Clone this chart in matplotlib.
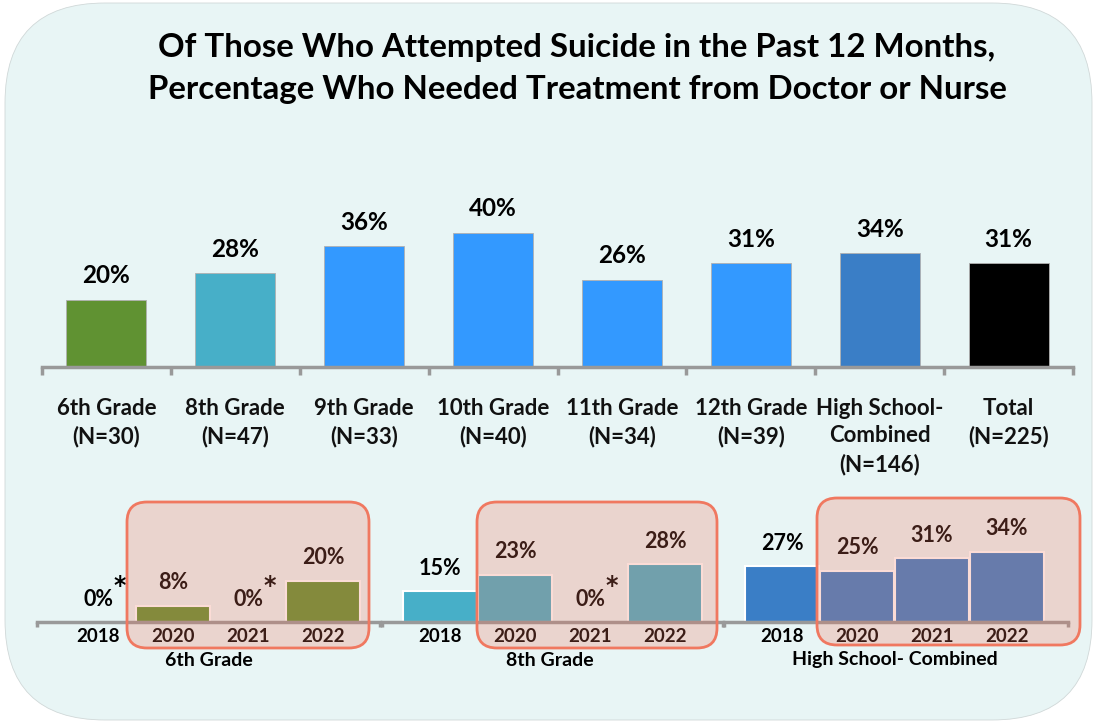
import matplotlib
matplotlib.use("Agg")
import matplotlib.pyplot as plt
from matplotlib.patches import FancyBboxPatch

plt.rcParams['font.family'] = ['Lato', 'DejaVu Sans']

# ---- data ----
title_lines = ["Of Those Who Attempted Suicide in the Past 12 Months,",
               "Percentage Who Needed Treatment from Doctor or Nurse"]

main_categories = ["6th Grade\n(N=30)", "8th Grade\n(N=47)", "9th Grade\n(N=33)",
                   "10th Grade\n(N=40)", "11th Grade\n(N=34)", "12th Grade\n(N=39)",
                   "High School-\nCombined\n(N=146)", "Total\n(N=225)"]
main_values = [20, 28, 36, 40, 26, 31, 34, 31]
main_colors = ["#609232", "#47AFC8", "#3399FF", "#3399FF", "#3399FF", "#3399FF",
               "#3A7EC6", "#000000"]

years = ["2018", "2020", "2021", "2022"]
trend_groups = ["6th Grade", "8th Grade", "High School- Combined"]
sixth_trend = [0, 8, 0, 20]
eighth_trend = [15, 23, 0, 28]
hs_trend = [27, 25, 31, 34]
trend_values = [sixth_trend, eighth_trend, hs_trend]
trend_colors = ["#609232", "#47AFC8", "#3A7EC6"]
# years flagged with an asterisk (too few respondents)
sixth_flags = [True, False, True, False]
eighth_flags = [False, False, True, False]
hs_flags = [False, False, False, False]
trend_flags = [sixth_flags, eighth_flags, hs_flags]

W, H = 1094, 724
fig = plt.figure(figsize=(W / 100, H / 100), dpi=100)
fig.patch.set_facecolor("white")


def px_axes(left, top, right, bottom, **kw):
    """Axes placed by pixel edges (origin top-left)."""
    return fig.add_axes([left / W, 1 - bottom / H, (right - left) / W, (bottom - top) / H], **kw)


# background canvas
bg = px_axes(0, 0, W, H, zorder=0)
bg.set_xlim(0, W)
bg.set_ylim(H, 0)
bg.axis("off")
bg.add_patch(FancyBboxPatch((5 + 100, 3 + 100), 1087 - 200, 717 - 200,
                            boxstyle="round,pad=100", facecolor="#E8F5F5",
                            edgecolor="#D0D8D8", linewidth=0.6))
for i, line in enumerate(title_lines):
    bg.text(577, 48 + 41 * i, line, ha="center", va="center", fontsize=23.8,
            fontweight="bold", color="black")

# ---- main chart ----
BASE = 367
PX_PER_PCT = 3.35
ymax = 50
ax = px_axes(42, BASE - ymax * PX_PER_PCT, 1073, BASE, zorder=2)
ax.patch.set_alpha(0)
x = list(range(len(main_values)))
ax.bar(x, main_values, width=0.62, color=main_colors, edgecolor="#B0B0B0",
       linewidth=0.6, zorder=2)
for xi, v in zip(x, main_values):
    ax.annotate(f"{v}%", (xi, v), xytext=(0, 24), textcoords="offset pixels",
                ha="center", va="center", fontsize=17.5, fontweight="bold")
ax.set_xlim(-0.5, len(main_values) - 0.5)
ax.set_ylim(0, ymax)
for s in ["top", "right", "left"]:
    ax.spines[s].set_visible(False)
ax.spines["bottom"].set_color("#999999")
ax.spines["bottom"].set_linewidth(2.5)
ax.set_yticks([])
ax.set_xticks([i - 0.5 for i in range(len(main_values) + 1)])
ax.set_xticklabels([])
ax.tick_params(axis="x", length=6, width=2.5, color="#999999", direction="out")
for xi, lab in zip(x, main_categories):
    ax.annotate(lab, (xi, 0), xytext=(0, -31), textcoords="offset pixels",
                ha="center", va="top", fontsize=16, fontweight="bold",
                linespacing=1.38, color="#111111", annotation_clip=False)

# ---- trend charts ----
TB = 622
TPX = 2.06
tmax = 40
STEP = 75
layouts = [(37, 98, 380), (382, 440, 723), (724, 782, 1068)]
boxes = [(127, 502, 369, 648), (477, 502, 717, 648), (817, 498, 1080, 645)]
label_cx = [209, 550, 895]

tax_list = []
for (left, c0, right), vals, col, flags, grp, lcx in zip(layouts, trend_values, trend_colors,
                                                         trend_flags, trend_groups, label_cx):
    tax = px_axes(left, TB - tmax * TPX, right, TB, zorder=2)
    tax.patch.set_alpha(0)
    xs = list(range(len(years)))
    tax.bar(xs, vals, width=0.98, color=col, edgecolor="white", linewidth=1.5, zorder=2)
    for xi, v in zip(xs, vals):
        tax.annotate(f"{v}%", (xi, v), xytext=(0, 23), textcoords="offset pixels",
                     ha="center", va="center", fontsize=15.5, fontweight="bold")
        tax.annotate(years[xi], (xi, 0), xytext=(0, -15), textcoords="offset pixels",
                     ha="center", va="center", fontsize=13.5, fontweight="bold",
                     annotation_clip=False)
    tax.set_xlim((left - c0) / STEP, (right - c0) / STEP)
    tax.set_ylim(0, tmax)
    for s in ["top", "right", "left"]:
        tax.spines[s].set_visible(False)
    tax.spines["bottom"].set_color("#999999")
    tax.spines["bottom"].set_linewidth(2.5)
    tax.set_yticks([])
    tax.set_xticks([])
    for end in tax.get_xlim():
        tax.plot([end, end], [0, -2.5], color="#999999", lw=2.5, clip_on=False,
                 solid_capstyle="butt")
    bg.text(lcx, 660, grp, ha="center", va="center", fontsize=14, fontweight="bold")
    tax_list.append((tax, vals, flags))

# translucent highlight boxes over the 2020-2022 bars
ov = px_axes(0, 0, W, H, zorder=5)
ov.set_xlim(0, W)
ov.set_ylim(H, 0)
ov.axis("off")
ov.patch.set_alpha(0)
R = 20
for (l, t, r, b) in boxes:
    ov.add_patch(FancyBboxPatch((l + R, t + R), r - l - 2 * R, b - t - 2 * R,
                                boxstyle=f"round,pad={R}", facecolor=(0.94, 0.46, 0.36, 0.25),
                                edgecolor="#F07860", linewidth=2))

# asterisks stay on top of the highlight boxes
for tax, vals, flags in tax_list:
    for xi, (v, f) in enumerate(zip(vals, flags)):
        if f:
            tax.annotate("*", (xi, v), xytext=(22, 36), textcoords="offset pixels",
                         ha="center", va="center", fontsize=17, fontweight="bold",
                         family="DejaVu Sans", zorder=10, annotation_clip=False)

fig.savefig("out.png", dpi=100)
